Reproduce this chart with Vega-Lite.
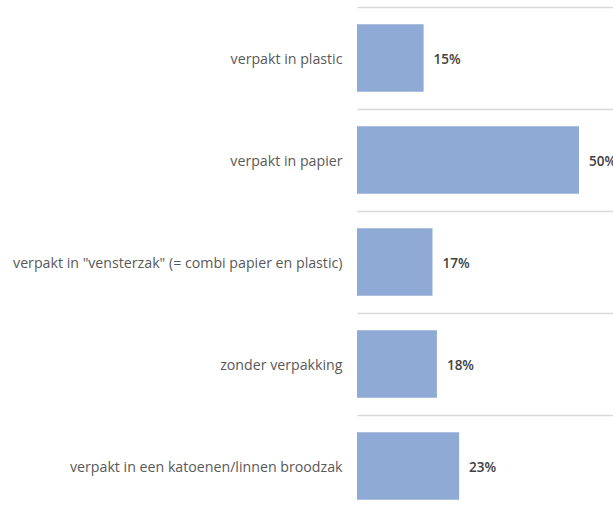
{
  "$schema": "https://vega.github.io/schema/vega-lite/v6.json",
  "autosize": "none",
  "padding": {"left": 357, "top": 7, "right": 0, "bottom": 0},
  "width": 256,
  "height": 510,
  "background": "white",
  "data": {"values": [
    {"categorie": "verpakt in plastic", "aandeel": 0.15},
    {"categorie": "verpakt in papier", "aandeel": 0.50},
    {"categorie": "verpakt in \"vensterzak\" (= combi papier en plastic)", "aandeel": 0.17},
    {"categorie": "zonder verpakking", "aandeel": 0.18},
    {"categorie": "verpakt in een katoenen/linnen broodzak", "aandeel": 0.23}
  ]},
  "encoding": {
    "y": {
      "field": "categorie", "type": "nominal", "sort": null, "title": null,
      "scale": {"paddingInner": 0, "paddingOuter": 0},
      "axis": {
        "bandPosition": 0, "grid": true, "gridColor": "#d9d9d9", "gridWidth": 1.5,
        "domain": false, "ticks": false, "labelPadding": 15, "labelOffset": 2, "labelFont": "Open Sans",
        "labelFontSize": 14.2, "labelColor": "#595959", "labelLimit": 400
      }
    },
    "x": {
      "field": "aandeel", "type": "quantitative",
      "scale": {"domain": [0, 0.5766], "nice": false, "zero": true},
      "axis": null
    }
  },
  "layer": [
    {"mark": {"type": "bar", "color": "#8FAAD4", "height": {"band": 0.66}}},
    {"mark": {"type": "text", "align": "left", "baseline": "middle", "dx": 10, "dy": 2, "font": "Open Sans", "fontSize": 13.5, "fontWeight": 600, "color": "#404040"},
     "encoding": {"text": {"field": "aandeel", "type": "quantitative", "format": ".0%"}}}
  ],
  "config": {"view": {"stroke": null}}
}
